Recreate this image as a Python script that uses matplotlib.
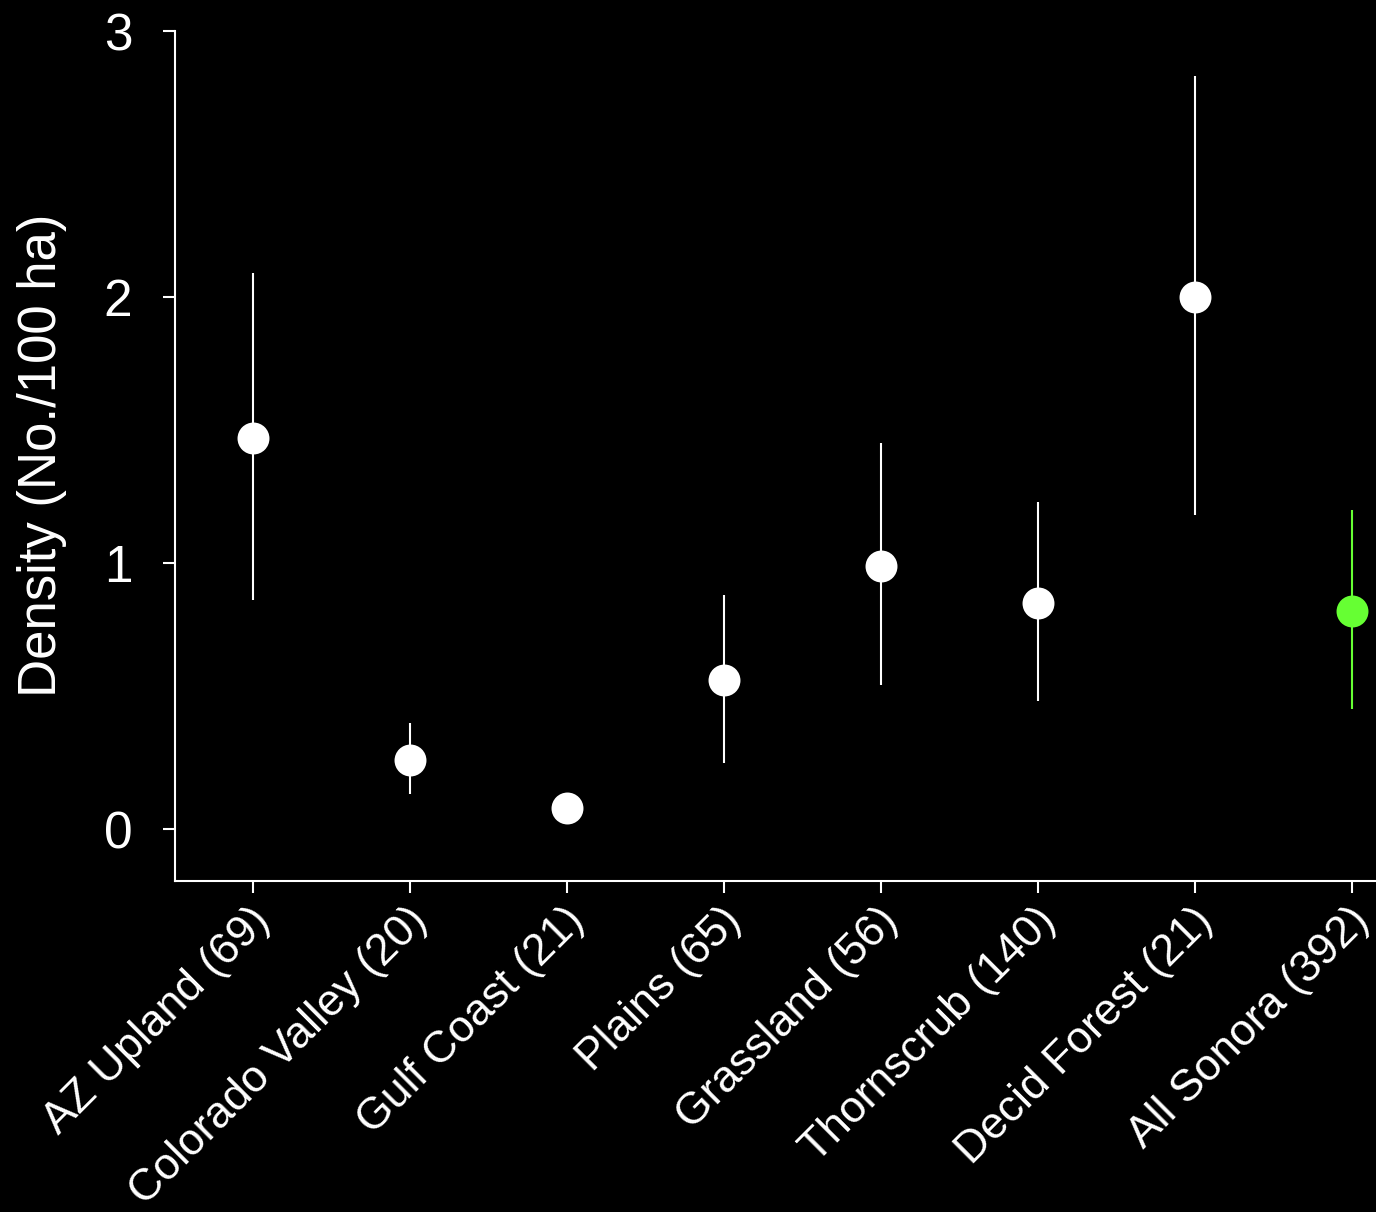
import matplotlib
matplotlib.use("Agg")
import matplotlib.pyplot as plt
import matplotlib.transforms as mtransforms
import numpy as np

# Density estimates per region with confidence limits
categories = ["AZ Upland (69)", "Colorado Valley (20)", "Gulf Coast (21)", "Plains (65)",
              "Grassland (56)", "Thornscrub (140)", "Decid Forest (21)", "All Sonora (392)"]
density = [1.47, 0.26, 0.08, 0.56, 0.99, 0.85, 2.00, 0.82]
lower = [0.86, 0.13, 0.08, 0.25, 0.54, 0.48, 1.18, 0.45]
upper = [2.09, 0.40, 0.08, 0.88, 1.45, 1.23, 2.83, 1.20]
y_ticks = [0, 1, 2, 3]

point_colors = ["white"] * 7 + ["#66FF33"]

plt.rcParams["font.family"] = ["Liberation Sans", "DejaVu Sans"]

fig = plt.figure(figsize=(13.76, 12.12), dpi=100, facecolor="black")
ax = fig.add_axes([175 / 1376, 1 - 881 / 1212, 1201 / 1376, 851 / 1212])
ax.set_facecolor("black")

x = np.arange(len(categories))
for xi, m, lo, hi, c in zip(x, density, lower, upper, point_colors):
    if hi > lo:
        ax.vlines(xi, lo, hi, color=c, linewidth=1.5, zorder=2)
    ax.plot(xi, m, "o", color=c, markersize=23, markeredgewidth=0, zorder=3, clip_on=False)

ax.set_xlim(-0.497, 7.153)
ax.set_ylim(-0.1955, 3.004)

for side in ("top", "right"):
    ax.spines[side].set_visible(False)
for side in ("left", "bottom"):
    ax.spines[side].set_color("white")
    ax.spines[side].set_linewidth(1.5)
ax.spines["left"].set_bounds(-0.1955, 3.0)

ax.set_yticks(y_ticks)
ax.set_yticklabels([str(t) for t in y_ticks])
ax.set_xticks(x)
ax.set_xticklabels(categories, rotation=45, ha="right", va="center", rotation_mode="anchor")

ax.tick_params(axis="y", colors="white", direction="out", length=8.6, width=1.5,
               labelsize=37, pad=22)
ax.tick_params(axis="x", colors="white", direction="out", length=8.6, width=1.5,
               labelsize=32, pad=15.5)

# nudge the slanted category labels a little to the right
shift = mtransforms.ScaledTranslation(11 / 100, 0, fig.dpi_scale_trans)
for lbl in ax.get_xticklabels():
    lbl.set_transform(lbl.get_transform() + shift)

ax.set_ylabel("Density (No./100 ha)", color="white", fontsize=38)
ax.yaxis.set_label_coords(-0.09, 0.5)

fig.savefig("out.png", dpi=100, facecolor="black")
